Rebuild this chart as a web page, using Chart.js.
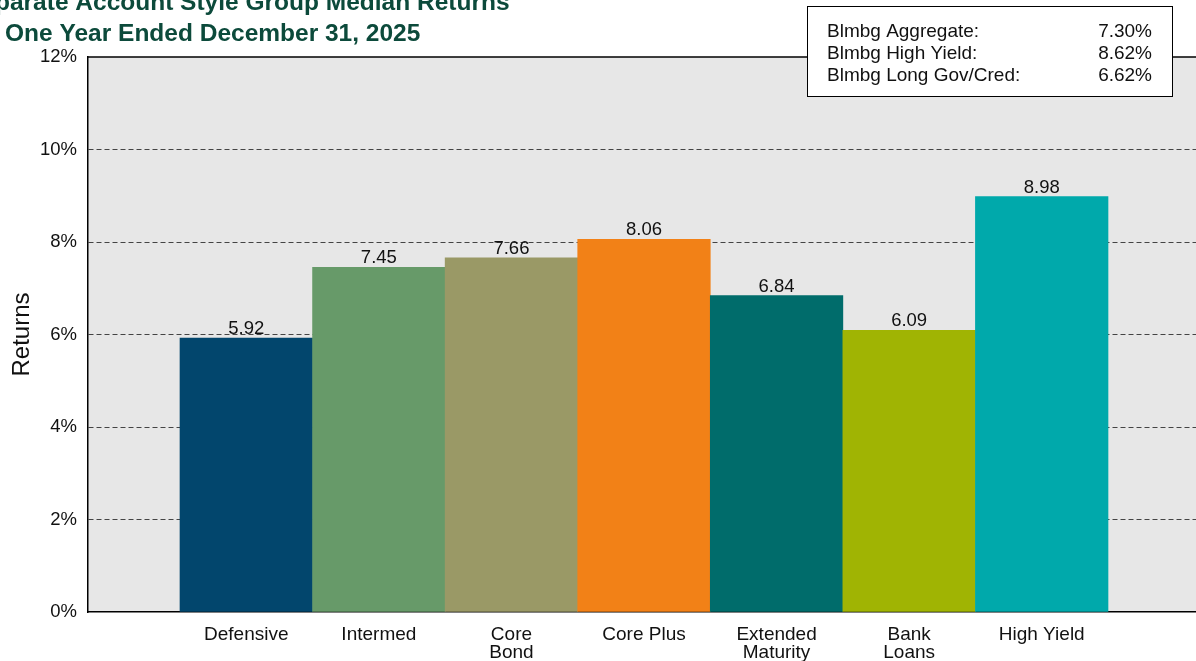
<!DOCTYPE html>
<html>
<head>
<meta charset="utf-8">
<script src="https://cdn.jsdelivr.net/npm/chart.js@4"></script>
<style>
html,body{margin:0;padding:0;background:#fff;overflow:hidden;}
#wrap{width:1196px;height:661px;position:relative;}
</style>
</head>
<body>
<div id="wrap"><canvas id="c" width="1196" height="661"></canvas></div>
<script>
const categories = [["Defensive"], ["Intermed"], ["Core", "Bond"], ["Core Plus"], ["Extended", "Maturity"], ["Bank", "Loans"], ["High Yield"]];
const returns = [5.92, 7.45, 7.66, 8.06, 6.84, 6.09, 8.98];
const barColors = ["#02466D", "#679A69", "#9A9966", "#F28117", "#006C6B", "#A0B403", "#00A9AB"];
const yTicks = [0, 2, 4, 6, 8, 10, 12];
const titleLines = ["Separate Account Style Group Median Returns", "One Year Ended December 31, 2025"];
const indexNames = ["Blmbg Aggregate:", "Blmbg High Yield:", "Blmbg Long Gov/Cred:"];
const indexValues = ["7.30%", "8.62%", "6.62%"];

const FONT = "'Liberation Sans', Arial, sans-serif";

const bgPlugin = {
  id: 'bg',
  beforeDraw(chart) {
    const {ctx, chartArea: a} = chart;
    ctx.save();
    ctx.fillStyle = '#E7E7E7';
    ctx.fillRect(a.left, a.top, a.right - a.left + 2, a.bottom - a.top);
    ctx.restore();
  },
  afterDraw(chart) {
    const {ctx, chartArea: a} = chart;
    ctx.save();
    ctx.strokeStyle = '#000';
    ctx.lineWidth = 1.5;
    ctx.beginPath();
    ctx.moveTo(a.left, a.top);
    ctx.lineTo(chart.width, a.top);
    ctx.stroke();
    ctx.fillStyle = '#0C4A3B';
    ctx.font = "bold 24.5px " + FONT;
    ctx.textBaseline = 'alphabetic';
    ctx.textAlign = 'left';
    ctx.fillText(titleLines[0], -35, 10);
    ctx.fillText(titleLines[1], 5, 41);
    ctx.fillStyle = '#fff';
    ctx.fillRect(807, 6, 365, 90);
    ctx.strokeStyle = '#000';
    ctx.lineWidth = 1;
    ctx.strokeRect(807.5, 6.5, 365, 90);
    ctx.fillStyle = '#111';
    ctx.font = "19px " + FONT;
    ctx.textBaseline = 'middle';
    indexNames.forEach((n, i) => {
      const y = 31.5 + i * 22.3;
      ctx.textAlign = 'left';
      ctx.fillText(n, 827, y);
      ctx.textAlign = 'right';
      ctx.fillText(indexValues[i], 1152, y);
    });
    ctx.restore();
  },
  afterDatasetsDraw(chart) {
    const {ctx} = chart;
    const meta = chart.getDatasetMeta(0);
    ctx.save();
    ctx.fillStyle = '#111';
    ctx.font = "18.5px " + FONT;
    ctx.textAlign = 'center';
    ctx.textBaseline = 'alphabetic';
    meta.data.forEach((el, i) => {
      ctx.fillText(returns[i].toFixed(2), el.x, el.y - 4);
    });
    ctx.restore();
  }
};

const barW = (1108 - 180) / 7;
const c0 = 180 + barW / 2;

new Chart(document.getElementById('c'), {
  type: 'bar',
  data: {
    datasets: [{
      data: returns.map((v, i) => ({x: i, y: v})),
      backgroundColor: barColors,
      borderWidth: 0,
      barPercentage: 1,
      categoryPercentage: 1
    }]
  },
  options: {
    responsive: false,
    animation: false,
    devicePixelRatio: 1,
    layout: {padding: {top: 57, left: 0, right: 0, bottom: 0}},
    plugins: {legend: {display: false}, tooltip: {enabled: false}, title: {display: false}},
    scales: {
      x: {
        type: 'linear',
        offset: false,
        min: (88 - c0) / barW,
        max: (1196 - c0) / barW,
        afterFit(axis) { axis.height = 661 - 612; },
        afterBuildTicks(axis) { axis.ticks = categories.map((c, i) => ({value: i})); },
        grid: {display: false, drawTicks: false},
        border: {display: true, color: '#000', width: 1.5},
        ticks: {
          autoSkip: false,
          maxRotation: 0,
          minRotation: 0,
          padding: 14,
          color: '#111',
          font: {family: FONT, size: 19, lineHeight: 0.95},
          callback: (v) => categories[v] || ''
        }
      },
      y: {
        min: 0,
        max: 12,
        afterFit(axis) { axis.width = 88; },
        afterBuildTicks(axis) { axis.ticks = yTicks.map(v => ({value: v})); },
        grid: {
          color: (ctx) => (ctx.tick && (ctx.tick.value === 0 || ctx.tick.value === 12)) ? 'rgba(0,0,0,0)' : '#444',
          lineWidth: 1,
          drawTicks: false,
          tickLength: 0
        },
        border: {display: true, color: '#000', width: 1.5, dash: [5, 3]},
        ticks: {
          padding: 11,
          color: '#111',
          font: {family: FONT, size: 18.5},
          callback: (v) => v + '%'
        },
        title: {
          display: true,
          text: 'Returns',
          color: '#111',
          font: {family: FONT, size: 24},
          padding: {top: 8, bottom: 4}
        }
      }
    }
  },
  plugins: [bgPlugin]
});
</script>
</body>
</html>
